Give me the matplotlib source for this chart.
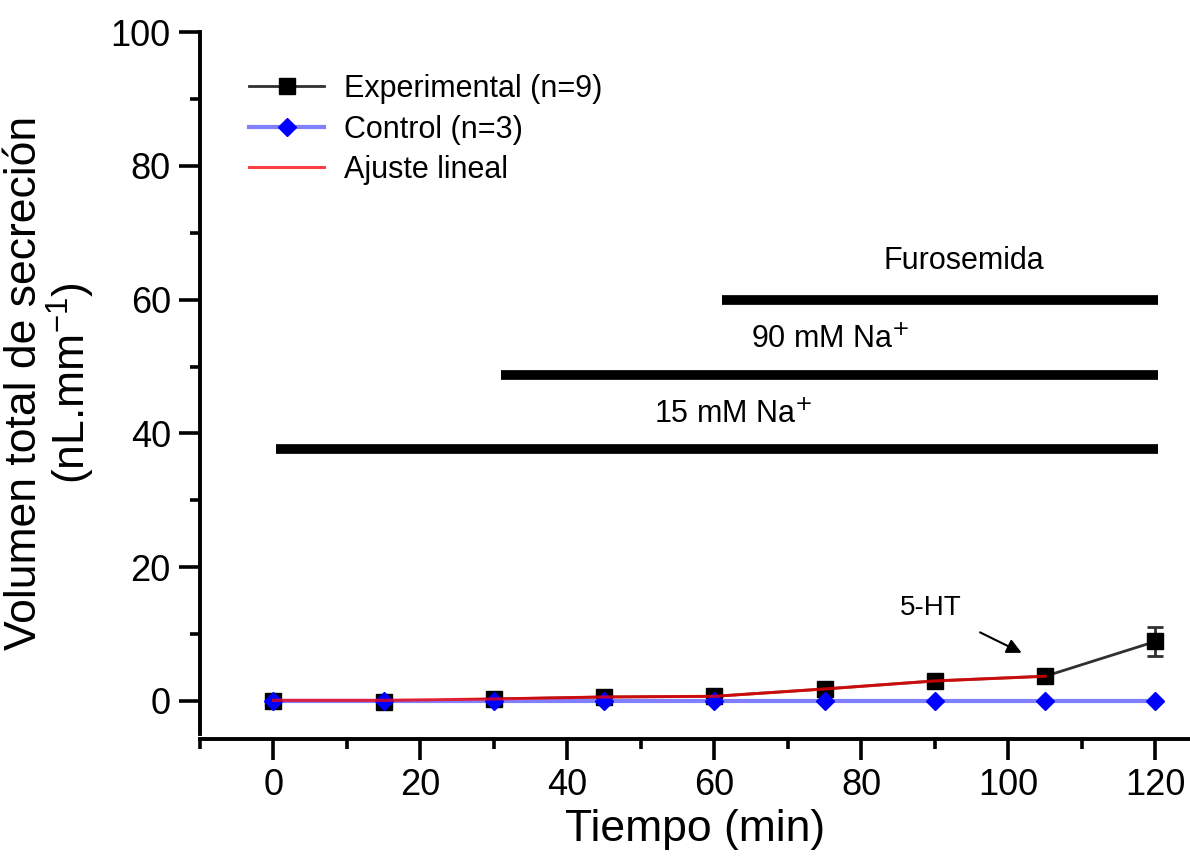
import matplotlib.pyplot as plt
from matplotlib.ticker import MultipleLocator

plt.rcParams['font.family'] = ['Liberation Sans', 'DejaVu Sans']

# data
tiempo = [0, 15, 30, 45, 60, 75, 90, 105, 120]
experimental = [0.0, -0.1, 0.3, 0.6, 0.7, 1.8, 3.0, 3.7, 8.9]
exp_err = [0.3, 0.3, 0.4, 0.5, 0.5, 0.5, 0.6, 0.6, 2.2]
control = [0, 0, 0, 0, 0, 0, 0, 0, 0]
ajuste_x = [0, 15, 30, 45, 60, 75, 90, 105]
ajuste_y = [0.1, 0.1, 0.3, 0.6, 0.7, 1.8, 3.0, 3.7]

# treatment bars: (label, start, end, level)
barras = [
    ('Furosemida', 61, 120.3, 60.0),
    ('90 mM Na$^{+}$', 31, 120.3, 48.8),
    ('15 mM Na$^{+}$', 0.3, 120.3, 37.6),
]
etiquetas_xy = [(93.9, 65.8), (75.8, 54.0), (62.6, 42.8)]

fig = plt.figure(figsize=(11.9, 8.56), dpi=100)
ax = fig.add_axes([0.168, 0.142, 0.832, 0.8206])

# experimental
ax.errorbar(tiempo, experimental, yerr=exp_err, fmt='none', ecolor='#303030',
            elinewidth=2, capsize=6, capthick=2, zorder=3)
ax.plot(tiempo, experimental, color='#303030', lw=2, marker='s', ms=11.5,
        mfc='black', mec='black', zorder=3, label='Experimental (n=9)')

# control
ax.plot(tiempo, control, color='#8080ff', lw=3, marker='D', ms=9,
        mfc='blue', mec='blue', zorder=4, label='Control (n=3)')

# linear fit
ax.plot(ajuste_x, ajuste_y, color='red', lw=2.2, alpha=0.75, zorder=5,
        label='Ajuste lineal')

# treatment bars
for (txt, x0, x1, yv), (tx, ty) in zip(barras, etiquetas_xy):
    ax.plot([x0, x1], [yv, yv], color='black', lw=7, solid_capstyle='butt')
    ax.text(tx, ty, txt, fontsize=22, ha='center', va='center')

# 5-HT arrow
ax.annotate('5-HT', xy=(101.8, 7.2), xytext=(89.4, 13.9), fontsize=20,
            ha='center', va='center',
            arrowprops=dict(arrowstyle='-|>', color='black', lw=1.5,
                            mutation_scale=22, shrinkA=14, shrinkB=0))

# axes
ax.set_xlim(-10, 124.7)
ax.set_ylim(-5, 100)
ax.spines['top'].set_visible(False)
ax.spines['right'].set_visible(False)
ax.spines['left'].set_linewidth(2.8)
ax.spines['bottom'].set_linewidth(2.8)
ax.spines['bottom'].set_position(('outward', 3.5))
ax.spines['left'].set_bounds(-5, 100)

ax.xaxis.set_major_locator(MultipleLocator(20))
ax.xaxis.set_minor_locator(MultipleLocator(10))
ax.yaxis.set_major_locator(MultipleLocator(20))
ax.yaxis.set_minor_locator(MultipleLocator(10))
ax.tick_params(which='major', direction='out', length=15, width=2.6,
               labelsize=26, pad=6)
ax.tick_params(which='minor', direction='out', length=7.5, width=2.6)

ax.set_xlabel('Tiempo (min)', fontsize=32, labelpad=4)
ax.set_ylabel('Volumen total de secreción\n(nL.mm$^{\\mathregular{-1}}$)',
              fontsize=32, labelpad=10, linespacing=1.0)

ax.legend(loc='upper left', bbox_to_anchor=(0.05, 0.94), frameon=False,
          fontsize=22, handlelength=2.45, handletextpad=0.65,
          labelspacing=0.34, borderpad=0, borderaxespad=0)

fig.savefig('out.png', dpi=100)
